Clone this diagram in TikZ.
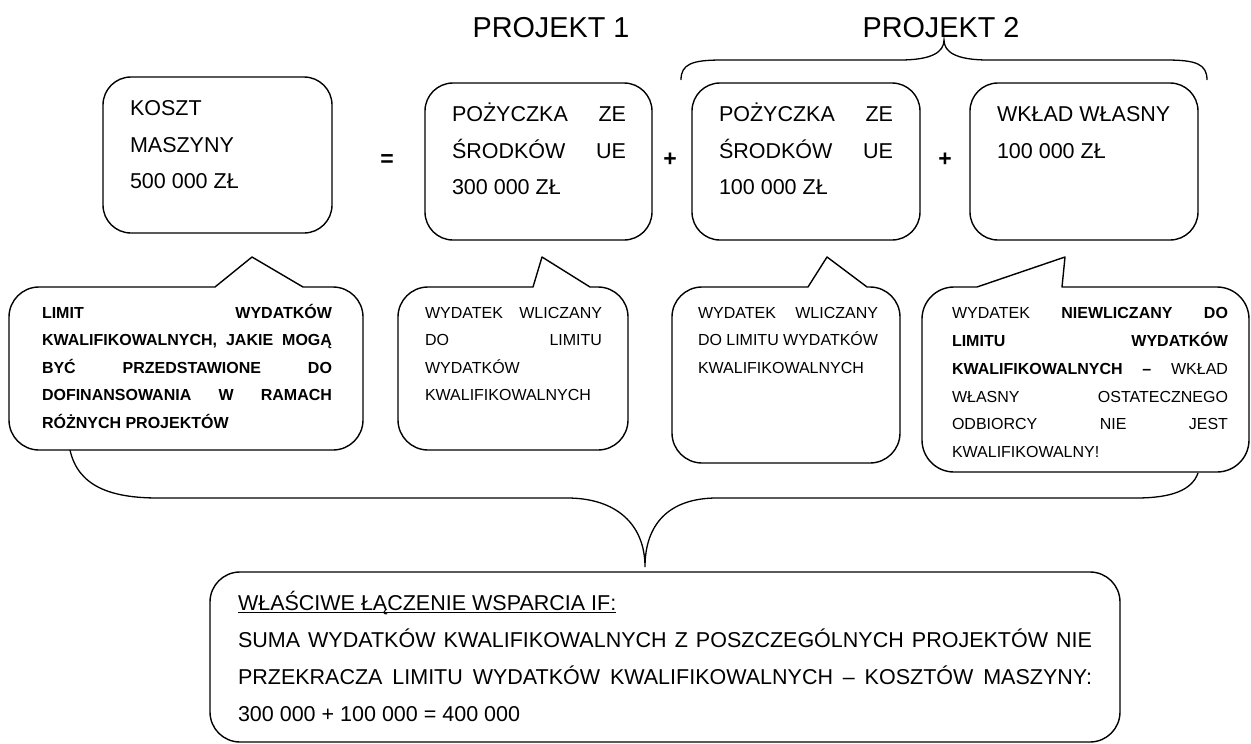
\documentclass[tikz,border=0pt]{standalone}
\usepackage{fontspec}
\setmainfont{Liberation Sans}
\newcommand\fbig{\fontsize{21.5}{26}\selectfont}
\newcommand\fop{\fontsize{23}{26}\selectfont\bfseries}
\newcommand\fsmall{\fontsize{16}{19}\selectfont}
\newcommand\fsmallb{\fontsize{16}{19}\selectfont\bfseries}
\newcommand\fhead{\fontsize{28.8}{34}\selectfont}
\newcommand\jline[5]{\node[ln,font=#3] (#1) at (#2) {\makebox[#4pt][s]{#5}};}
\newcommand\natline[4]{\node[ln,font=#3] (#1) at (#2) {#4};}
\newcommand\myul[1]{\setbox0\hbox{#1}\rlap{\rule[-2.6pt]{\wd0}{1pt}}\box0}
% L R T B r a tip b
\newcommand\callout[8]{%
\draw[shp] (#8,#3) -- (#2-#5,#3) .. controls (#2-0.448*#5,#3) and (#2,#3+0.448*#5) .. (#2,#3+#5)
 -- (#2,#4-#5) .. controls (#2,#4-0.448*#5) and (#2-0.448*#5,#4) .. (#2-#5,#4)
 -- (#1+#5,#4) .. controls (#1+0.448*#5,#4) and (#1,#4-0.448*#5) .. (#1,#4-#5)
 -- (#1,#3+#5) .. controls (#1,#3+0.448*#5) and (#1+0.448*#5,#3) .. (#1+#5,#3)
 -- (#6,#3) -- (#7) -- cycle;}
\tikzset{
  shp/.style={draw=black, line width=1.4pt, line join=round},
  ln/.style={anchor=base west, inner sep=0pt, outer sep=0pt},
  op/.style={anchor=base, inner sep=0pt, font=\fop},
  topbox/.style={shp, rounded corners=28pt, inner sep=0pt, minimum height=157pt},
}
\begin{document}
\begin{tikzpicture}[x=1pt,y=-1pt]
\useasboundingbox (0,0) rectangle (1251,744);
\fill[white] (0,0) rectangle (1251,744);

% headings
\node[anchor=base, inner sep=0pt, font=\fhead] (p1) at (551,37) {PROJEKT 1};
\node[anchor=base, inner sep=0pt, font=\fhead] (p2) at (941,37) {PROJEKT 2};

% brace over project 2
\coordinate (b2L) at (681,80);
\coordinate (b2T) at (944,40);
\coordinate (b2R) at (1207,80);
\draw[line width=1.3pt] (b2L) .. controls (681,64) and (692,60) .. (722,60) -- (900,60)
  .. controls (932,60) and (944,52) .. (b2T) .. controls (944,52) and (956,60) .. (988,60)
  -- (1166,60) .. controls (1196,60) and (1207,64) .. (b2R);

% top boxes
\node[topbox, minimum width=229pt, minimum height=156pt] (bA) at (217.5,155) {};
\node[topbox, minimum width=227pt] (bB) at (538.5,161.5) {};
\node[topbox, minimum width=228pt] (bC) at (806,161.5) {};
\node[topbox, minimum width=228pt] (bD) at (1084,161.5) {};

\node[op] (eq) at (387,166) {=};
\node[op] (pl1) at (670,166) {+};
\node[op] (pl2) at (945,166) {+};

\natline{tA1}{130,115}{\fbig}{KOSZT}
\natline{tA2}{130,152}{\fbig}{MASZYNY}
\natline{tA3}{130,188}{\fbig}{500 000 ZŁ}

\jline{tB1}{452,121}{\fbig}{174}{POŻYCZKA ZE}
\jline{tB2}{452,158}{\fbig}{174}{ŚRODKÓW UE}
\natline{tB3}{452,194}{\fbig}{300 000 ZŁ}

\jline{tC1}{719,121}{\fbig}{174}{POŻYCZKA ZE}
\jline{tC2}{719,158}{\fbig}{174}{ŚRODKÓW UE}
\natline{tC3}{719,194}{\fbig}{100 000 ZŁ}

\natline{tD1}{997,121}{\fbig}{WKŁAD WŁASNY}
\natline{tD2}{997,158}{\fbig}{100 000 ZŁ}

% callouts
\callout{9}{363}{287}{450}{30}{215}{252,257}{303}
\callout{398}{628}{287}{450}{30}{533}{542,257}{590}
\callout{672}{900}{287}{463}{30}{808}{827,257}{867}
\callout{922}{1249}{287}{472}{32}{977}{1065,257}{1062}

\jline{cA1}{42,318}{\fsmallb}{290}{LIMIT WYDATKÓW}
\jline{cA2}{42,345.5}{\fsmallb}{290}{KWALIFIKOWALNYCH, JAKIE MOGĄ}
\jline{cA3}{42,373}{\fsmallb}{290}{BYĆ PRZEDSTAWIONE DO}
\jline{cA4}{42,400.5}{\fsmallb}{290}{DOFINANSOWANIA W RAMACH}
\natline{cA5}{42,428}{\fsmallb}{RÓŻNYCH PROJEKTÓW}

\jline{cB1}{425,318}{\fsmall}{177}{WYDATEK WLICZANY}
\jline{cB2}{425,345.5}{\fsmall}{177}{DO LIMITU}
\natline{cB3}{425,373}{\fsmall}{WYDATKÓW}
\natline{cB4}{425,400.5}{\fsmall}{KWALIFIKOWALNYCH}

\jline{cC1}{698,318}{\fsmall}{180}{WYDATEK WLICZANY}
\jline{cC2}{698,345.5}{\fsmall}{180}{DO LIMITU WYDATKÓW}
\natline{cC3}{698,373}{\fsmall}{KWALIFIKOWALNYCH}

\jline{cD1}{952,318}{\fsmall}{276}{WYDATEK \textbf{NIEWLICZANY} \textbf{DO}}
\jline{cD2}{952,346}{\fsmall}{276}{\textbf{LIMITU} \textbf{WYDATKÓW}}
\jline{cD3}{952,374}{\fsmall}{276}{\textbf{KWALIFIKOWALNYCH} \textbf{–} WKŁAD}
\jline{cD4}{952,402}{\fsmall}{276}{WŁASNY OSTATECZNEGO}
\jline{cD5}{952,429.5}{\fsmall}{276}{ODBIORCY NIE JEST}
\natline{cD6}{952,457}{\fsmall}{KWALIFIKOWALNY!}

% bottom brace
\coordinate (bbL) at (70,450);
\coordinate (bbT) at (645,567);
\coordinate (bbR) at (1198,473);
\draw[line width=1.3pt] (bbL) .. controls (78,486) and (110,498) .. (158,498) -- (567,498)
  .. controls (617,498) and (645,525) .. (bbT) .. controls (645,525) and (668,498) .. (717,498)
  -- (1136,498) .. controls (1172,498) and (1192,490) .. (bbR);

% bottom box
\node[shp, rounded corners=30pt, inner sep=0pt, minimum width=910pt, minimum height=170pt] (bot) at (665,657) {};
\natline{s1}{238,610}{\fbig}{\myul{WŁAŚCIWE ŁĄCZENIE WSPARCIA IF:}}
\jline{s2}{238,647}{\fbig}{854}{SUMA WYDATKÓW KWALIFIKOWALNYCH Z POSZCZEGÓLNYCH PROJEKTÓW NIE}
\jline{s3}{238,684}{\fbig}{854}{PRZEKRACZA LIMITU WYDATKÓW KWALIFIKOWALNYCH – KOSZTÓW MASZYNY:}
\natline{s4}{238,721}{\fbig}{300 000 + 100 000 = 400 000}
\end{tikzpicture}
\end{document}
